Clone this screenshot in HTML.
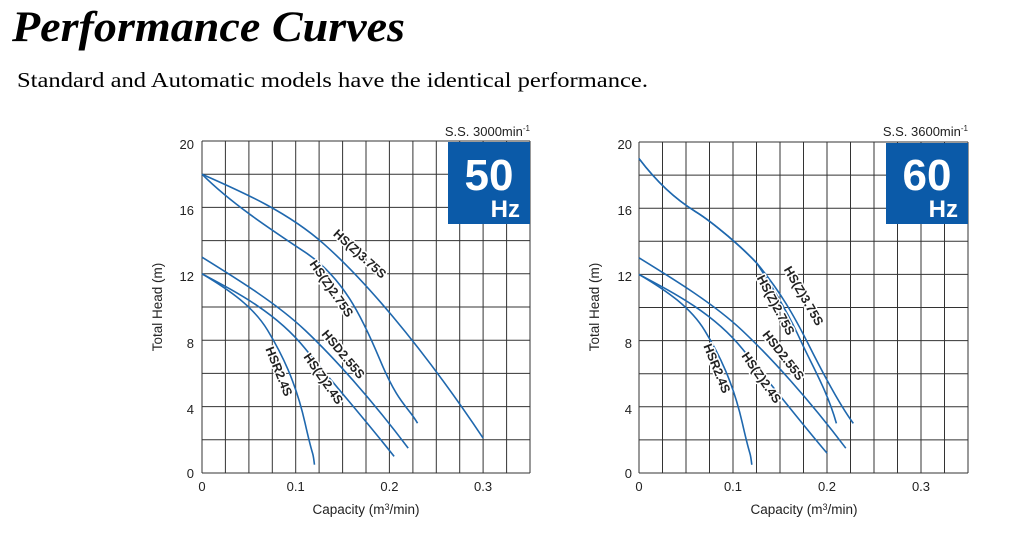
<!DOCTYPE html>
<html><head><meta charset="utf-8"><style>
html,body{margin:0;padding:0;background:#fff;width:1024px;height:535px;overflow:hidden}
svg{display:block}
.t{font-family:"Liberation Sans",sans-serif;fill:#222}
.g line{stroke:#333;stroke-width:1}
.c{fill:none;stroke:#1f68ae;stroke-width:1.6;vector-effect:non-scaling-stroke}
.lb{font-family:"Liberation Sans",sans-serif;font-weight:bold;font-size:12.5px;fill:#222;stroke:#fff;stroke-width:3px;paint-order:stroke;stroke-linejoin:round}
</style></head><body>
<svg width="1024" height="535" xmlns="http://www.w3.org/2000/svg">
<text x="12" y="41" font-family="Liberation Serif,serif" font-weight="bold" font-style="italic" font-size="43" fill="#000" textLength="393" lengthAdjust="spacingAndGlyphs">Performance Curves</text>
<text x="17" y="87" font-family="Liberation Serif,serif" font-size="21" fill="#000" textLength="631" lengthAdjust="spacingAndGlyphs">Standard and Automatic models have the identical performance.</text>

<!-- LEFT CHART -->
<g class="g">
<line x1="202" y1="141" x2="530" y2="141"/><line x1="202" y1="174.2" x2="530" y2="174.2"/><line x1="202" y1="207.4" x2="530" y2="207.4"/><line x1="202" y1="240.6" x2="530" y2="240.6"/><line x1="202" y1="273.8" x2="530" y2="273.8"/><line x1="202" y1="307" x2="530" y2="307"/><line x1="202" y1="340.2" x2="530" y2="340.2"/><line x1="202" y1="373.4" x2="530" y2="373.4"/><line x1="202" y1="406.6" x2="530" y2="406.6"/><line x1="202" y1="439.8" x2="530" y2="439.8"/><line x1="202" y1="473" x2="530" y2="473"/>
<line x1="202" y1="141" x2="202" y2="473"/><line x1="225.4" y1="141" x2="225.4" y2="473"/><line x1="248.9" y1="141" x2="248.9" y2="473"/><line x1="272.3" y1="141" x2="272.3" y2="473"/><line x1="295.7" y1="141" x2="295.7" y2="473"/><line x1="319.1" y1="141" x2="319.1" y2="473"/><line x1="342.6" y1="141" x2="342.6" y2="473"/><line x1="366" y1="141" x2="366" y2="473"/><line x1="389.4" y1="141" x2="389.4" y2="473"/><line x1="412.9" y1="141" x2="412.9" y2="473"/><line x1="436.3" y1="141" x2="436.3" y2="473"/><line x1="459.7" y1="141" x2="459.7" y2="473"/><line x1="483.1" y1="141" x2="483.1" y2="473"/><line x1="506.6" y1="141" x2="506.6" y2="473"/><line x1="530" y1="141" x2="530" y2="473"/>
</g>
<rect x="448" y="142" width="82" height="82" fill="#0b5aa8"/>
<text x="489" y="190" text-anchor="middle" font-family="Liberation Sans,sans-serif" font-weight="bold" font-size="44" fill="#fff">50</text>
<text x="520" y="217" text-anchor="end" font-family="Liberation Sans,sans-serif" font-weight="bold" font-size="24" fill="#fff">Hz</text>
<text class="t" x="530" y="136" text-anchor="end" font-size="13">S.S. 3000min<tspan font-size="8" dy="-5">-1</tspan></text>
<g class="t" font-size="13" text-anchor="end">
<text x="194" y="149">20</text><text x="194" y="215">16</text><text x="194" y="281">12</text><text x="194" y="348">8</text><text x="194" y="414">4</text><text x="194" y="478">0</text>
</g>
<g class="t" font-size="13" text-anchor="middle">
<text x="202" y="491">0</text><text x="295.7" y="491">0.1</text><text x="389.4" y="491">0.2</text><text x="483.1" y="491">0.3</text>
</g>
<text class="t" font-size="13.5" text-anchor="middle" x="366" y="514">Capacity (m<tspan font-size="9" dy="-4">3</tspan><tspan dy="4">/min)</tspan></text>
<text class="t" font-size="13.5" text-anchor="middle" transform="translate(162,307) rotate(-90)">Total Head (m)</text>
<g transform="translate(202,473) scale(0.93714,-16.6)">
<path class="c" d="M0,18 C40,17 90,15.8 130,13.8 S230,8 300,2.1"/>
<path class="c" d="M0,18 C30,16.3 70,14.8 110,13.3 S170,9.5 190,6.8 S220,4 230,3"/>
<path class="c" d="M0,13 C40,11.6 80,10.2 110,8.6 S180,4.5 220,1.5"/>
<path class="c" d="M0,12 C40,10.8 80,9.6 110,7.5 S170,3.5 205,1"/>
<path class="c" d="M0,12 C30,11 55,10 70,8.6 S100,5.5 110,3 S118,1.5 120,0.5"/>
</g>
<text class="lb" transform="translate(357,257) rotate(42)" text-anchor="middle">HS(Z)3.75S</text>
<text class="lb" transform="translate(328,291) rotate(55)" text-anchor="middle">HS(Z)2.75S</text>
<text class="lb" transform="translate(340,357) rotate(50)" text-anchor="middle">HSD2.55S</text>
<text class="lb" transform="translate(320,381) rotate(55)" text-anchor="middle">HS(Z)2.4S</text>
<text class="lb" transform="translate(275,373) rotate(68)" text-anchor="middle">HSR2.4S</text>

<!-- RIGHT CHART -->
<g class="g">
<line x1="639" y1="142" x2="968" y2="142"/><line x1="639" y1="175.1" x2="968" y2="175.1"/><line x1="639" y1="208.2" x2="968" y2="208.2"/><line x1="639" y1="241.3" x2="968" y2="241.3"/><line x1="639" y1="274.4" x2="968" y2="274.4"/><line x1="639" y1="307.5" x2="968" y2="307.5"/><line x1="639" y1="340.6" x2="968" y2="340.6"/><line x1="639" y1="373.7" x2="968" y2="373.7"/><line x1="639" y1="406.8" x2="968" y2="406.8"/><line x1="639" y1="439.9" x2="968" y2="439.9"/><line x1="639" y1="473" x2="968" y2="473"/>
<line x1="639" y1="142" x2="639" y2="473"/><line x1="662.5" y1="142" x2="662.5" y2="473"/><line x1="686" y1="142" x2="686" y2="473"/><line x1="709.5" y1="142" x2="709.5" y2="473"/><line x1="733" y1="142" x2="733" y2="473"/><line x1="756.5" y1="142" x2="756.5" y2="473"/><line x1="780" y1="142" x2="780" y2="473"/><line x1="803.5" y1="142" x2="803.5" y2="473"/><line x1="827" y1="142" x2="827" y2="473"/><line x1="850.5" y1="142" x2="850.5" y2="473"/><line x1="874" y1="142" x2="874" y2="473"/><line x1="897.5" y1="142" x2="897.5" y2="473"/><line x1="921" y1="142" x2="921" y2="473"/><line x1="944.5" y1="142" x2="944.5" y2="473"/><line x1="968" y1="142" x2="968" y2="473"/>
</g>
<rect x="886" y="143" width="82" height="81" fill="#0b5aa8"/>
<text x="927" y="190" text-anchor="middle" font-family="Liberation Sans,sans-serif" font-weight="bold" font-size="44" fill="#fff">60</text>
<text x="958" y="217" text-anchor="end" font-family="Liberation Sans,sans-serif" font-weight="bold" font-size="24" fill="#fff">Hz</text>
<text class="t" x="968" y="136" text-anchor="end" font-size="13">S.S. 3600min<tspan font-size="8" dy="-5">-1</tspan></text>
<g class="t" font-size="13" text-anchor="end">
<text x="632" y="149">20</text><text x="632" y="215">16</text><text x="632" y="281">12</text><text x="632" y="348">8</text><text x="632" y="414">4</text><text x="632" y="478">0</text>
</g>
<g class="t" font-size="13" text-anchor="middle">
<text x="639" y="491">0</text><text x="733" y="491">0.1</text><text x="827" y="491">0.2</text><text x="921" y="491">0.3</text>
</g>
<text class="t" font-size="13.5" text-anchor="middle" x="804" y="514">Capacity (m<tspan font-size="9" dy="-4">3</tspan><tspan dy="4">/min)</tspan></text>
<text class="t" font-size="13.5" text-anchor="middle" transform="translate(599,307) rotate(-90)">Total Head (m)</text>
<g transform="translate(639,473) scale(0.94,-16.55)">
<path class="c" d="M0,19 C20,17.5 40,16.5 60,15.8 S110,13.6 125,12.7 C150,11 165,9.5 180,7.8 S215,4 228,3"/>
<path class="c" d="M0,19 C20,17.5 40,16.5 60,15.8 S110,13.6 125,12.7 C145,11 160,9.5 172,8 S200,5 210,3"/>
<path class="c" d="M0,13 C40,11.6 80,10.2 110,8.6 S180,4.5 220,1.5"/>
<path class="c" d="M0,12 C40,10.8 80,9.6 110,7.5 S170,3.2 200,1.2"/>
<path class="c" d="M0,12 C30,11 55,10 70,8.6 S100,5.5 110,3 S118,1.5 120,0.5"/>
</g>
<text class="lb" transform="translate(800,298) rotate(60)" text-anchor="middle">HS(Z)3.75S</text>
<text class="lb" transform="translate(772,307) rotate(62)" text-anchor="middle">HS(Z)2.75S</text>
<text class="lb" transform="translate(780,358) rotate(52)" text-anchor="middle">HSD2.55S</text>
<text class="lb" transform="translate(758,380) rotate(55)" text-anchor="middle">HS(Z)2.4S</text>
<text class="lb" transform="translate(713,370) rotate(68)" text-anchor="middle">HSR2.4S</text>
</svg>
</body></html>
